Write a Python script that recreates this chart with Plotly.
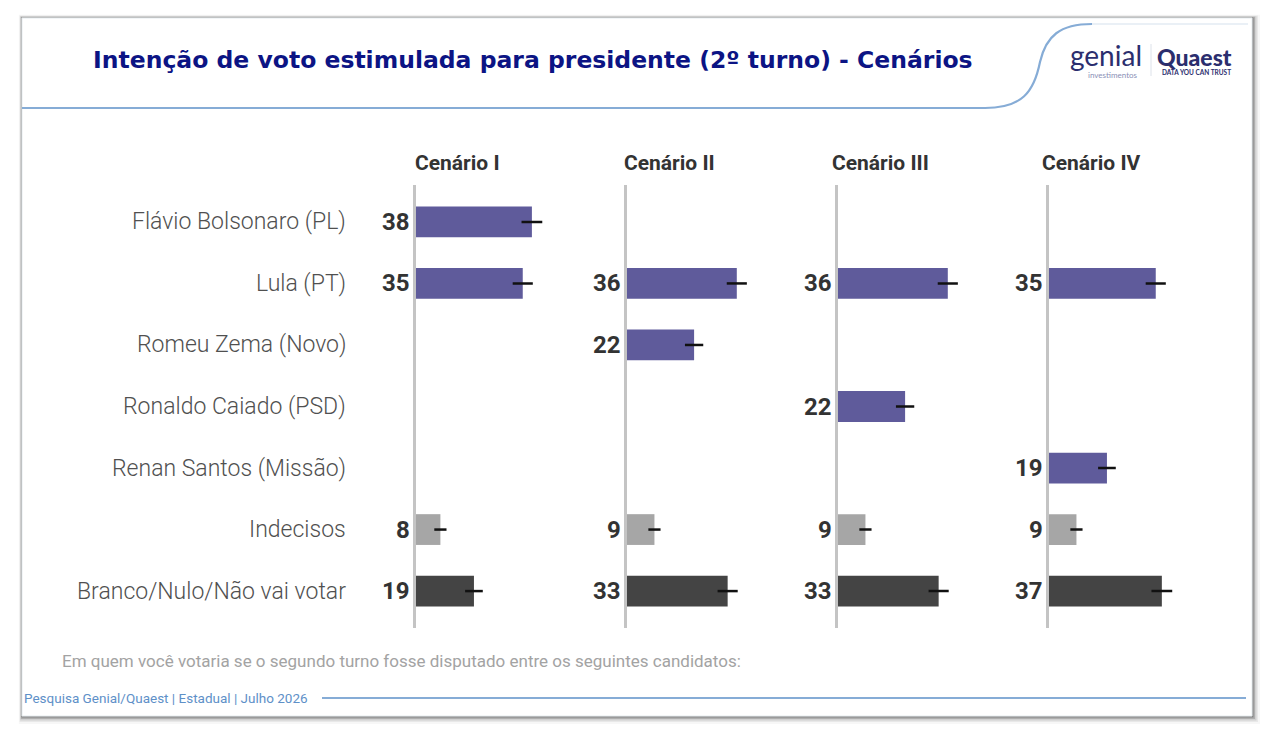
import plotly.graph_objects as go

W, H = 1272, 734

categories = ["Flávio Bolsonaro (PL)", "Lula (PT)", "Romeu Zema (Novo)",
              "Ronaldo Caiado (PSD)", "Renan Santos (Missão)", "Indecisos",
              "Branco/Nulo/Não vai votar"]
scenarios = ["Cenário I", "Cenário II", "Cenário III", "Cenário IV"]

values_c1 = [38, 35, None, None, None, 8, 19]
values_c2 = [None, 36, 22, None, None, 9, 33]
values_c3 = [None, 36, None, 22, None, 9, 33]
values_c4 = [None, 35, None, None, 19, 9, 37]

err_c1 = [3.4, 3.3, None, None, None, 2.0, 2.9]
err_c2 = [None, 3.3, 3.0, None, None, 2.0, 3.3]
err_c3 = [None, 3.3, None, 3.0, None, 2.0, 3.3]
err_c4 = [None, 3.3, None, None, 2.9, 2.0, 3.4]

all_values = [values_c1, values_c2, values_c3, values_c4]
all_errors = [err_c1, err_c2, err_c3, err_c4]

bar_colors = ["#5f5b9b"] * 5 + ["#a6a6a6", "#444444"]

title_text = "Intenção de voto estimulada para presidente (2º turno) - Cenários"
question_text = "Em quem você votaria se o segundo turno fosse disputado entre os seguintes candidatos:"
footer_text = "Pesquisa Genial/Quaest | Estadual | Julho 2026"


def px(x):
    return x / W


def py(y):
    return 1 - y / H


fig = go.Figure()

zero_px = [416, 627, 838, 1049]
xmax = 45
scale = 3.05
y_top, y_bot = 185, 628

shapes = []
# card shadow
for off, op in [(8, 0.03), (6, 0.06), (4.5, 0.10), (3, 0.16), (1.5, 0.22)]:
    shapes.append(dict(type="rect", xref="paper", yref="paper",
                       x0=px(22 - off * 0.4), x1=px(1252 + off), y0=py(716 + off), y1=py(18 - off * 0.4),
                       line=dict(width=0), fillcolor=f"rgba(0,0,0,{op})", layer="below"))
shapes.append(dict(type="rect", xref="paper", yref="paper",
                   x0=px(22), x1=px(1252), y0=py(716), y1=py(18),
                   line=dict(width=1, color="#e6ecef"), fillcolor="#ffffff", layer="below"))
# header line with curve
path = (f"M {px(22)},{py(108)} L {px(985)},{py(108)} "
        f"C {px(1022)},{py(108)} {px(1034)},{py(92)} {px(1040)},{py(62)} "
        f"C {px(1046)},{py(36)} {px(1060)},{py(24)} {px(1092)},{py(24)}")
shapes.append(dict(type="path", xref="paper", yref="paper", path=path,
                   line=dict(color="#86acd6", width=2.2), layer="below"))
shapes.append(dict(type="line", xref="paper", yref="paper",
                   x0=px(1092), x1=px(1248), y0=py(24), y1=py(24),
                   line=dict(color="#e3ebf3", width=1.5), layer="below"))
# footer line
shapes.append(dict(type="line", xref="paper", yref="paper",
                   x0=px(322), x1=px(1246), y0=py(698), y1=py(698),
                   line=dict(color="#86acd6", width=1.8)))
# logo divider
shapes.append(dict(type="line", xref="paper", yref="paper",
                   x0=px(1151), x1=px(1151), y0=py(44), y1=py(76),
                   line=dict(color="#dde2ea", width=1)))

annotations = []
layout_axes = {}
for i in range(4):
    vals = all_values[i]
    errs = all_errors[i]
    sfx = "" if i == 0 else str(i + 1)
    fig.add_trace(go.Bar(
        y=categories, x=vals, orientation="h",
        marker=dict(color=bar_colors, line=dict(width=0)),
        width=0.5,
        error_x=dict(type="data", array=[e if e is not None else 0 for e in errs],
                     color="#111111", thickness=2.5, width=0, visible=True),
        xaxis="x" + sfx, yaxis="y" + sfx, showlegend=False, hoverinfo="skip",
    ))
    x0 = zero_px[i]
    layout_axes["xaxis" + sfx] = dict(domain=[px(x0), px(x0 + xmax * scale)], range=[0, xmax],
                                     visible=False, anchor="y" + sfx, fixedrange=True)
    layout_axes["yaxis" + sfx] = dict(domain=[py(y_bot), py(y_top)], type="category",
                                     categoryarray=categories, categoryorder="array",
                                     range=[6.6, -0.6], showline=True, linecolor="#c4c4c4",
                                     linewidth=3, showticklabels=False, ticks="",
                                     showgrid=False, zeroline=False, anchor="x" + sfx)
    for cat, v in zip(categories, vals):
        if v is None:
            continue
        annotations.append(dict(xref="x" + sfx, yref="y" + sfx, x=0, y=cat, text=str(v),
                                showarrow=False, xanchor="right", xshift=-4,
                                font=dict(family="Roboto", size=24, color="#333333", weight="bold")))
    annotations.append(dict(xref="paper", yref="paper", x=px(x0 + 42), y=py(163),
                            text=scenarios[i], showarrow=False, xanchor="center", yanchor="middle",
                            font=dict(family="Roboto", size=21, color="#333333", weight="bold")))

for cat in categories:
    annotations.append(dict(xref="paper", yref="y", x=px(348), y=cat, text=cat,
                            showarrow=False, xanchor="right", yanchor="middle",
                            font=dict(family="Roboto", size=23, color="#505050", weight=300)))

annotations += [
    dict(xref="paper", yref="paper", x=px(91), y=py(60), text=title_text, showarrow=False,
         xanchor="left", yanchor="middle",
         font=dict(family="DejaVu Sans", size=23.5, color="#0c1484", weight="bold")),
    dict(xref="paper", yref="paper", x=px(60), y=py(661), text=question_text, showarrow=False,
         xanchor="left", yanchor="middle", font=dict(family="Roboto", size=17, color="#a3a3a3")),
    dict(xref="paper", yref="paper", x=px(22), y=py(698), text=footer_text, showarrow=False,
         xanchor="left", yanchor="middle", font=dict(family="Roboto", size=13.5, color="#5e90c8")),
    dict(xref="paper", yref="paper", x=px(1106), y=py(55), text="genial", showarrow=False,
         xanchor="center", yanchor="middle",
         font=dict(family="Lato", size=28, color="#2b2e6e")),
    dict(xref="paper", yref="paper", x=px(1113), y=py(75), text="investimentos", showarrow=False,
         xanchor="center", yanchor="middle", font=dict(family="Lato", size=8, color="#8a8fb6")),
    dict(xref="paper", yref="paper", x=px(1194), y=py(57), text="Quaest", showarrow=False,
         xanchor="center", yanchor="middle",
         font=dict(family="Lato", size=23, color="#2b2e6e", weight=900)),
    dict(xref="paper", yref="paper", x=px(1196), y=py(73), text="DATA YOU CAN TRUST", showarrow=False,
         xanchor="center", yanchor="middle",
         font=dict(family="Lato", size=6.5, color="#2b2e6e", weight="bold")),
]

fig.update_layout(
    width=W, height=H, margin=dict(l=0, r=0, t=0, b=0),
    paper_bgcolor="#ffffff", plot_bgcolor="rgba(0,0,0,0)",
    shapes=shapes, annotations=annotations, bargap=0.5,
    **layout_axes,
)

fig.write_html("out.html")
